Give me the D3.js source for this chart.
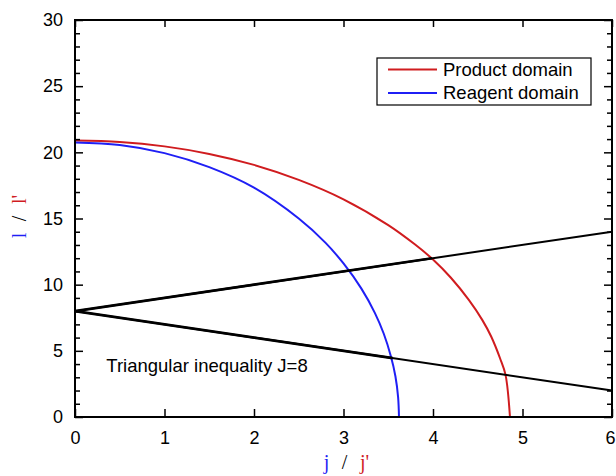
<!DOCTYPE html>
<html>
<head>
<meta charset="utf-8">
<script src="https://cdn.jsdelivr.net/npm/d3@7"></script>
<style>
  body { margin: 0; background: #fff; }
  svg { display: block; }
  text { font-family: "Liberation Sans", Arial, sans-serif; }
</style>
</head>
<body>
<svg id="chart" width="616" height="476"></svg>
<script>
// values
const productX = [0, 0.5, 1.0, 1.5, 2.0, 2.5, 3.0, 3.5, 3.8, 4.0, 4.2, 4.4, 4.55, 4.65, 4.75, 4.81, 4.86];
const productY = [20.9, 20.79, 20.45, 19.88, 19.05, 17.92, 16.45, 14.5, 13.03, 11.9, 10.52, 8.85, 7.34, 6.08, 4.42, 3.2, 0];

const reagentX = [0, 0.5, 1.0, 1.5, 2.0, 2.5, 2.8, 3.0, 3.2, 3.35, 3.45, 3.53, 3.58, 3.61, 3.62];
const reagentY = [20.75, 20.55, 19.94, 18.88, 17.33, 15.0, 13.16, 11.6, 9.7, 7.87, 6.29, 4.57, 3.08, 1.5, 0];

// triangular inequality bounds for J=8
const upperX = [0, 6];
const upperY = [8, 14];
const lowerX = [0, 6];
const lowerY = [8, 2];
// heavier drawn part, up to where the curves cross
const upperBoldX = [0, 3.99];
const upperBoldY = [8, 11.99];
const lowerBoldX = [0, 3.55];
const lowerBoldY = [8, 4.45];

const xTicks = [0, 1, 2, 3, 4, 5, 6];
const yTicks = [0, 5, 10, 15, 20, 25, 30];
const yMinorTicks = d3.range(0, 31, 1);

const legendLabels = ['Product domain', 'Reagent domain'];
const noteText = 'Triangular inequality J=8';

const red = '#d01c1f';
const blue = '#1f1ff5';

const margin = { left: 75, right: 4, top: 20, bottom: 59 };
const width = 616, height = 476;

const svg = d3.select('#chart');

const x = d3.scaleLinear().domain([0, 6]).range([margin.left, width - margin.right]);
const y = d3.scaleLinear().domain([0, 30]).range([height - margin.bottom, margin.top]);

const zip = (xs, ys) => xs.map((v, i) => [v, ys[i]]);
const line = d3.line().x(d => x(d[0])).y(d => y(d[1]));
const smooth = d3.line().x(d => x(d[0])).y(d => y(d[1])).curve(d3.curveCatmullRom.alpha(0.5));

// curves
svg.append('path').datum(zip(productX, productY))
  .attr('d', smooth).attr('fill', 'none').attr('stroke', red).attr('stroke-width', 2);
svg.append('path').datum(zip(reagentX, reagentY))
  .attr('d', smooth).attr('fill', 'none').attr('stroke', blue).attr('stroke-width', 2);

// bound lines
[[upperX, upperY, 2], [lowerX, lowerY, 2], [upperBoldX, upperBoldY, 2.6], [lowerBoldX, lowerBoldY, 2.6]]
  .forEach(([xs, ys, w]) => {
    svg.append('path').datum(zip(xs, ys))
      .attr('d', line).attr('fill', 'none').attr('stroke', '#000').attr('stroke-width', w);
  });

// axes (ticks point inward)
const tickStyle = g => g.call(s => s.select('.domain').remove())
  .call(s => s.selectAll('line').attr('stroke', '#000').attr('stroke-width', 1.5));

svg.append('g')
  .attr('transform', `translate(0,${y(0)})`)
  .call(d3.axisBottom(x).tickValues(xTicks).tickSize(-8).tickPadding(14).tickFormat(d3.format('d')))
  .call(tickStyle)
  .call(g => g.selectAll('text').attr('font-size', 18).attr('fill', '#000')
    .attr('font-family', '"Liberation Sans", Arial, sans-serif'))
  .call(g => g.selectAll('.tick:last-of-type text').attr('dx', -2));

svg.append('g')
  .attr('transform', `translate(0,${y(30)})`)
  .call(d3.axisTop(x).tickValues(xTicks).tickSize(-7).tickFormat(''))
  .call(tickStyle);

svg.append('g')
  .attr('transform', `translate(${x(0)},0)`)
  .call(d3.axisLeft(y).tickValues(yMinorTicks.filter(v => v % 5 !== 0)).tickSize(-5).tickFormat(''))
  .call(tickStyle);
svg.append('g')
  .attr('transform', `translate(${x(0)},0)`)
  .call(d3.axisLeft(y).tickValues(yTicks).tickSize(-8).tickPadding(12).tickFormat(d3.format('d')))
  .call(tickStyle)
  .call(g => g.selectAll('text').attr('font-size', 18).attr('fill', '#000')
    .attr('font-family', '"Liberation Sans", Arial, sans-serif'));

svg.append('g')
  .attr('transform', `translate(${x(6)},0)`)
  .call(d3.axisRight(y).tickValues(yMinorTicks.filter(v => v % 5 !== 0)).tickSize(-5).tickFormat(''))
  .call(tickStyle);
svg.append('g')
  .attr('transform', `translate(${x(6)},0)`)
  .call(d3.axisRight(y).tickValues(yTicks).tickSize(-8).tickFormat(''))
  .call(tickStyle);

// frame
svg.append('rect')
  .attr('x', x(0)).attr('y', y(30))
  .attr('width', x(6) - x(0)).attr('height', y(0) - y(30))
  .attr('fill', 'none').attr('stroke', '#000').attr('stroke-width', 2);

// axis titles, pieces spread out like the reference
const serif = '"Liberation Serif", "Times New Roman", serif';
const xMid = (x(0) + x(6)) / 2;
[['j', blue, -17], ['/', '#000', 1], ["j'", red, 21]].forEach(([t, c, dx]) => {
  svg.append('text')
    .attr('x', xMid + dx).attr('y', 469)
    .attr('text-anchor', 'middle')
    .style('font-family', serif)
    .attr('font-size', 20).attr('fill', c)
    .text(t);
});

const yMid = (y(0) + y(30)) / 2;
[['l', blue, -17], ['/', '#000', 0], ["l'", red, 19]].forEach(([t, c, dy]) => {
  svg.append('text')
    .attr('transform', `translate(26,${yMid - dy}) rotate(-90)`)
    .attr('text-anchor', 'middle')
    .style('font-family', serif)
    .attr('font-size', 20).attr('fill', c)
    .text(t);
});

// annotation
svg.append('text')
  .attr('x', x(0.35)).attr('y', 372)
  .attr('font-size', 18.5).attr('fill', '#000')
  .text(noteText);

// legend
const legend = svg.append('g').attr('transform', 'translate(377,58)');
legend.append('rect')
  .attr('width', 214).attr('height', 47)
  .attr('fill', '#fff').attr('stroke', '#000').attr('stroke-width', 1.2);
legend.selectAll('g.item')
  .data(legendLabels)
  .join('g')
  .attr('class', 'item')
  .attr('transform', (d, i) => `translate(0,${11.5 + i * 23.5})`)
  .each(function(d, i) {
    const g = d3.select(this);
    g.append('line')
      .attr('x1', 11).attr('x2', 60)
      .attr('stroke', i === 0 ? red : blue).attr('stroke-width', 2);
    g.append('text')
      .attr('x', 66).attr('dy', '0.35em')
      .attr('font-size', 18.5).attr('fill', '#000')
      .text(d);
  });
</script>
</body>
</html>
